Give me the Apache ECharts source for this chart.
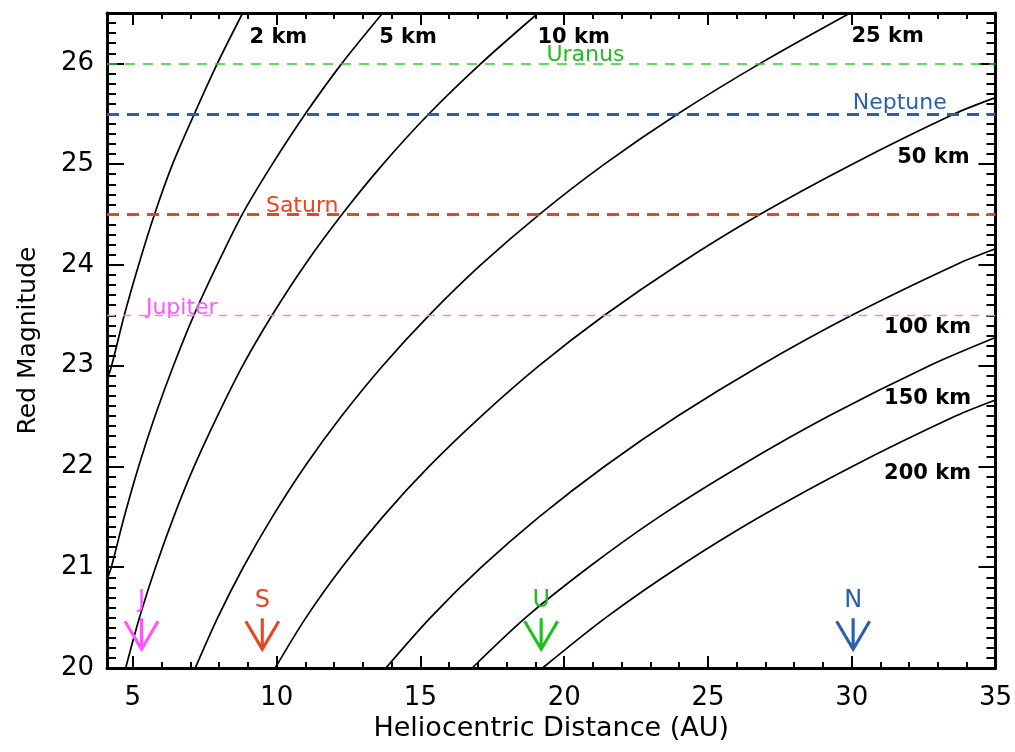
<!DOCTYPE html>
<html><head><meta charset="utf-8">
<script src="https://cdn.jsdelivr.net/npm/echarts@6/dist/echarts.min.js"></script>
<style>html,body{margin:0;padding:0;background:#fff}#c{width:1015px;height:752px}</style>
</head><body><div id="c"></div>
<script>
// ---- data ----
const sizeLabels = ['2 km','5 km','10 km','25 km','50 km','100 km','150 km','200 km'];
const km2   = [[4.10,22.86],[4.26,23.0],[4.70,23.5],[5.20,24.0],[5.75,24.5],[6.38,25.0],[7.14,25.5],[7.94,26.0],[8.82,26.5]];
const km5   = [[4.10,20.88],[4.25,21.0],[4.70,21.5],[5.20,22.0],[5.77,22.5],[6.41,23.0],[7.12,23.5],[7.93,24.0],[8.80,24.5],[9.85,25.0],[11.0,25.5],[12.27,26.0],[13.69,26.5]];
const km10  = [[4.75,20.0],[5.23,20.5],[5.79,21.0],[6.42,21.5],[7.13,22.0],[7.94,22.5],[8.82,23.0],[9.84,23.5],[10.98,24.0],[12.27,24.5],[13.70,25.0],[15.30,25.5],[17.11,26.0],[19.10,26.5]];
const km25  = [[7.17,20.0],[7.95,20.5],[8.84,21.0],[9.85,21.5],[10.98,22.0],[12.26,22.5],[13.69,23.0],[15.30,23.5],[17.10,24.0],[19.13,24.5],[21.40,25.0],[23.96,25.5],[26.82,26.0],[29.95,26.5]];
const km50  = [[9.95,20.0],[11.02,20.5],[12.27,21.0],[13.69,21.5],[15.30,22.0],[17.12,22.5],[19.13,23.0],[21.40,23.5],[23.95,24.0],[26.80,24.5],[30.02,25.0],[33.58,25.5],[35.0,25.66]];
const km100 = [[13.80,20.0],[15.35,20.5],[17.12,21.0],[19.13,21.5],[21.40,22.0],[23.95,22.5],[26.81,23.0],[30.00,23.5],[33.61,24.0],[35.0,24.16]];
const km150 = [[16.80,20.0],[18.66,20.5],[20.85,21.0],[23.30,21.5],[26.10,22.0],[29.20,22.5],[32.70,23.0],[35.0,23.28]];
const km200 = [[19.25,20.0],[21.45,20.5],[23.97,21.0],[26.81,21.5],[30.02,22.0],[33.61,22.5],[35.0,22.66]];

const planetNames   = ['Jupiter','Saturn','Uranus','Neptune'];
const planetLetters = ['J','S','U','N'];
const planetDist    = [5.3, 9.5, 19.2, 30.05];   // AU (arrow positions)
const planetMag     = [23.5, 24.5, 26.0, 25.5];  // limiting magnitudes (dashed lines)

const xTickLabels = [5,10,15,20,25,30,35];
const yTickLabels = [20,21,22,23,24,25,26];

// ---- layout / style ----
const X_MIN = 4.1, X_MAX = 35, Y_MIN = 20, Y_MAX = 26.5;
const FONT = 'DejaVu Sans';
const planetColors = ['#ff55ff','#e8461e','#1fbf1f','#2b5fad'];
const planetLineStyles = [
  {color:'#ff77ff', width:1.4, type:[8,8]},
  {color:'#e8461e', width:3, type:[12,8]},
  {color:'#2fcc2f', width:1.5, type:[10,8]},
  {color:'#2b5fad', width:3, type:[12,8]}
];
const curveLabelPos = [[10.06,26.26],[14.57,26.26],[20.33,26.26],[31.25,26.27],[32.84,25.07],[32.64,23.38],[32.64,22.67],[32.64,21.93]];
const planetLabelPos = [[6.70,23.57],[10.89,24.58],[20.74,26.08],[31.67,25.60]];
const ARROW_Y = 20.34;

const xMinor = []; for (let v = 5; v <= 35; v++) xMinor.push(v);
const yMinor = []; for (let i = 201; i <= 265; i++) yMinor.push(i / 10);

const curves = [km2, km5, km10, km25, km50, km100, km150, km200];

function xAx(pos, major, opts) {
  return Object.assign({
    type:'value', min:X_MIN, max:X_MAX, position:pos,
    axisLine:{show:major, onZero:false, lineStyle:{color:'#000', width:3}},
    axisTick:{show:true, inside:true, length: major ? 12 : 6, customValues: major ? xTickLabels : xMinor,
              lineStyle:{color:'#000', width:2}},
    axisLabel:{show:false},
    splitLine:{show:false}
  }, opts || {});
}
function yAx(pos, major, opts) {
  return Object.assign({
    type:'value', min:Y_MIN, max:Y_MAX, position:pos,
    axisLine:{show:major, onZero:false, lineStyle:{color:'#000', width:3}},
    axisTick:{show:true, inside:true, length: major ? 17 : 9, customValues: major ? yTickLabels : yMinor,
              lineStyle:{color:'#000', width:2}},
    axisLabel:{show:false},
    splitLine:{show:false}
  }, opts || {});
}

const series = [];
curves.forEach((c, i) => {
  series.push({
    name: sizeLabels[i], type:'line', data:c, smooth:0.3,
    showSymbol:false, symbol:'none', clip:true,
    lineStyle:{color:'#000', width:1.7}, z:3
  });
});
// dashed planet limit lines
planetNames.forEach((p, i) => {
  series.push({
    name: p + ' line', type:'line', data:[],
    markLine:{silent:true, symbol:'none', label:{show:false},
      lineStyle: Object.assign({opacity:1}, planetLineStyles[i]),
      data:[{yAxis: planetMag[i]}]},
    z:2
  });
});
// curve labels
series.push({
  type:'scatter', symbolSize:0, silent:true, z:5, itemStyle:{opacity:1},
  data: sizeLabels.map((t, i) => ({value: curveLabelPos[i], label:{formatter: t}})),
  label:{show:true, position:'inside', color:'#000', textBorderWidth:0, fontFamily:FONT, fontSize:21, fontWeight:'bold'}
});
// planet line labels
series.push({
  type:'scatter', symbolSize:0, silent:true, z:5, itemStyle:{opacity:1},
  data: planetNames.map((t, i) => ({value: planetLabelPos[i], label:{formatter: t, color: planetColors[i]}})),
  label:{show:true, position:'inside', textBorderWidth:0, fontFamily:FONT, fontSize:22}
});
// planet arrows
series.push({
  type:'scatter', silent:true, z:5,
  symbol:'path://M0,0 L0,31 M-16,3 L0,31 L16,3',
  symbolSize:[33,31],
  data: planetDist.map((d, i) => ({
    value:[d, ARROW_Y],
    itemStyle:{color:'rgba(0,0,0,0)', borderColor: planetColors[i], borderWidth:3, opacity:1},
    label:{formatter: planetLetters[i], color: planetColors[i]}
  })),
  label:{show:true, position:'top', distance:4, textBorderWidth:0, fontFamily:FONT, fontSize:24}
});

const chart = echarts.init(document.getElementById('c'), null, {renderer:'canvas'});
chart.setOption({
  animation:false,
  backgroundColor:'#fff',
  grid:{left:107, right:18, top:13, bottom:84, containLabel:false},
  xAxis:[
    xAx('bottom', true, {
      axisLabel:{show:true, customValues:xTickLabels, fontFamily:FONT, fontSize:26, color:'#000', margin:17},
      name:'Heliocentric Distance (AU)', nameLocation:'middle', nameGap:46,
      nameTextStyle:{fontFamily:FONT, fontSize:27, color:'#000'}
    }),
    xAx('bottom', false),
    xAx('top', true),
    xAx('top', false)
  ],
  yAxis:[
    yAx('left', true, {
      axisLabel:{show:true, customValues:yTickLabels, fontFamily:FONT, fontSize:26, color:'#000', margin:13},
      name:'Red Magnitude', nameLocation:'middle', nameRotate:90, nameGap:66,
      nameTextStyle:{fontFamily:FONT, fontSize:25, color:'#000'}
    }),
    yAx('left', false),
    yAx('right', true),
    yAx('right', false)
  ],
  series: series
});
</script>
</body></html>
